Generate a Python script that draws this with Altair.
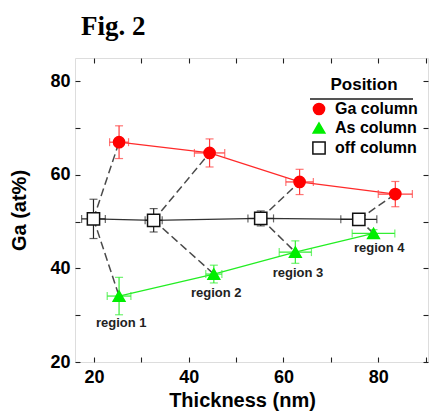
import altair as alt
import pandas as pd

positions = ["Ga column", "As column", "off column"]

ga_thick = [25.3, 44.4, 63.4, 83.6]
ga_val = [67.0, 64.7, 58.5, 55.9]
ga_xerr = [2.0, 3.2, 2.9, 3.6]
ga_yerr = [3.5, 3.0, 2.7, 2.7]

as_thick = [25.3, 45.3, 62.5, 79.0]
as_val = [34.1, 38.8, 43.5, 47.5]
as_xerr = [2.5, 1.7, 3.4, 4.5]
as_yerr = [4.0, 1.9, 2.4, 0.8]

off_thick = [19.9, 32.6, 55.2, 75.9]
off_val = [50.6, 50.3, 50.7, 50.5]
off_xerr = [2.5, 1.8, 2.7, 3.8]
off_yerr = [4.2, 2.5, 1.6, 0.8]

region_labels = ["region 1", "region 2", "region 3", "region 4"]
region_x = [25.75, 45.8, 63.05, 80.2]
region_y = [27.5, 34.0, 38.1, 43.6]

x_tick_values = [20, 30, 40, 50, 60, 70, 80, 90]
y_tick_values = [20, 30, 40, 50, 60, 70, 80]
x_label_values = [20, 40, 60, 80]
y_label_values = [20, 40, 60, 80]

point_fill = ["#ff0000", "#00ee00", "#ffffff"]
point_stroke = ["#ff0000", "#00ee00", "#111111"]
point_shape = ["circle", "triangle-up", "square"]
point_size = [125, 150, 120]
line_col = {"Ga column": "#ff2a2a", "As column": "#22ee22", "off column": "#333333"}
err_col = {"Ga column": "#ff3c3c", "As column": "#33ee33", "off column": "#222222"}

rows = []
for pos, th, va, xe, ye in [
    ("Ga column", ga_thick, ga_val, ga_xerr, ga_yerr),
    ("As column", as_thick, as_val, as_xerr, as_yerr),
    ("off column", off_thick, off_val, off_xerr, off_yerr),
]:
    for i in range(4):
        rows.append({
            "position": pos, "region": i, "thickness": th[i], "ga": va[i],
            "xlo": th[i] - xe[i], "xhi": th[i] + xe[i],
            "ylo": va[i] - ye[i], "yhi": va[i] + ye[i],
            "lc": line_col[pos], "ec": err_col[pos],
        })
df = pd.DataFrame(rows)

seg_rows = []
for i in range(4):
    for tgt, th, va in [("ga", ga_thick, ga_val), ("as", as_thick, as_val)]:
        seg_rows.append({"seg": f"{i}-{tgt}", "pt": 0, "thickness": off_thick[i], "ga": off_val[i]})
        seg_rows.append({"seg": f"{i}-{tgt}", "pt": 1, "thickness": th[i], "ga": va[i]})
seg_df = pd.DataFrame(seg_rows)

text_df = pd.DataFrame({"label": region_labels, "thickness": region_x, "ga": region_y})

xscale = alt.Scale(domain=[16, 90.5], nice=False, zero=False)
yscale = alt.Scale(domain=[20, 85], nice=False, zero=False)

W, H = 353, 304
FONT = "Liberation Sans"


def X(field="thickness", axis=None):
    return alt.X(f"{field}:Q", scale=xscale, axis=axis, title=None)


def Y(field="ga", axis=None):
    return alt.Y(f"{field}:Q", scale=yscale, axis=axis, title=None)


dashed = alt.Chart(seg_df).mark_line(
    color="#4a4a4a", strokeWidth=1.5, strokeDash=[8, 4]
).encode(x=X(), y=Y(), detail="seg:N", order="pt:Q")

lines = alt.Chart(df).mark_line(strokeWidth=1.3).encode(
    x=X(), y=Y(), stroke=alt.Stroke("lc:N", scale=None), detail="position:N",
    order="thickness:Q",
)

xerr_rule = alt.Chart(df).mark_rule(strokeWidth=1.2).encode(
    x=X("xlo"), x2="xhi:Q", y=Y(), stroke=alt.Stroke("ec:N", scale=None)
)
yerr_rule = alt.Chart(df).mark_rule(strokeWidth=1.2).encode(
    x=X(), y=Y("ylo"), y2="yhi:Q", stroke=alt.Stroke("ec:N", scale=None)
)
xcap_lo = alt.Chart(df).mark_tick(orient="vertical", size=8, thickness=1.2).encode(
    x=X("xlo"), y=Y(), color=alt.Color("ec:N", scale=None)
)
xcap_hi = alt.Chart(df).mark_tick(orient="vertical", size=8, thickness=1.2).encode(
    x=X("xhi"), y=Y(), color=alt.Color("ec:N", scale=None)
)
ycap_lo = alt.Chart(df).mark_tick(orient="horizontal", size=8, thickness=1.2).encode(
    x=X(), y=Y("ylo"), color=alt.Color("ec:N", scale=None)
)
ycap_hi = alt.Chart(df).mark_tick(orient="horizontal", size=8, thickness=1.2).encode(
    x=X(), y=Y("yhi"), color=alt.Color("ec:N", scale=None)
)

leg = alt.Legend(
    title="Position", orient="none", legendX=236, legendY=19,
    titleFont=FONT, titleFontSize=17, titleFontWeight="bold", titleColor="#000000",
    titleAnchor="middle", titlePadding=7,
    labelFont=FONT, labelFontSize=16, labelFontWeight="bold", labelColor="#000000",
    labelOffset=8, symbolSize=120, symbolStrokeWidth=1.5, rowPadding=1, padding=0,
    symbolOpacity=1,
)

main_x_axis = alt.Axis(
    values=x_label_values, ticks=False, domain=False, grid=False,
    labelFont=FONT, labelFontSize=18, labelFontWeight="bold", labelColor="#000000",
    labelPadding=6, title="Thickness (nm)", titleFont=FONT, titleFontSize=20,
    titleFontWeight="bold", titleColor="#000000", titleX=167, titleY=44,
    titleBaseline="alphabetic", titleAlign="center",
)
main_y_axis = alt.Axis(
    values=y_label_values, ticks=False, domain=False, grid=False,
    labelFont=FONT, labelFontSize=18, labelFontWeight="bold", labelColor="#000000",
    labelPadding=5, title="Ga (at%)", titleFont=FONT, titleFontSize=20,
    titleFontWeight="bold", titleColor="#000000", titleX=-50, titleY=152,
    titleBaseline="alphabetic", titleAlign="center", titleAngle=-90,
)

points = alt.Chart(df).mark_point(opacity=1, fillOpacity=1, strokeWidth=1.5).encode(
    x=alt.X("thickness:Q", scale=xscale, axis=main_x_axis),
    y=alt.Y("ga:Q", scale=yscale, axis=main_y_axis),
    fill=alt.Fill("position:N", scale=alt.Scale(domain=positions, range=point_fill), legend=leg),
    stroke=alt.Stroke("position:N", scale=alt.Scale(domain=positions, range=point_stroke), legend=leg),
    shape=alt.Shape("position:N", scale=alt.Scale(domain=positions, range=point_shape), legend=leg),
    size=alt.Size("position:N", scale=alt.Scale(domain=positions, range=point_size), legend=leg),
)

labels = alt.Chart(text_df).mark_text(
    font=FONT, fontSize=13, fontWeight="bold", color="#222222", baseline="alphabetic"
).encode(x=X(), y=Y(), text="label:N")

underline = alt.Chart(text_df).mark_rule(color="#555555", strokeWidth=1.5).encode(
    x=alt.value(235), x2=alt.value(338), y=alt.value(41)
)


def tick_axis(orient, values, offset):
    return alt.Axis(
        orient=orient, values=values, offset=offset, labels=False, domain=False,
        grid=False, ticks=True, tickSize=5, tickWidth=1.1, tickColor="#222222",
        title=None,
    )


inv1 = alt.Chart(text_df).mark_point(opacity=0).encode(
    x=alt.X("thickness:Q", scale=xscale, axis=tick_axis("top", x_tick_values, -H)),
    y=alt.Y("ga:Q", scale=yscale, axis=tick_axis("right", y_tick_values, -W)),
)
inv2 = alt.Chart(text_df).mark_point(opacity=0).encode(
    x=alt.X("thickness:Q", scale=xscale, axis=tick_axis("bottom", x_tick_values, -H)),
    y=alt.Y("ga:Q", scale=yscale, axis=tick_axis("left", y_tick_values, -W)),
)

chart = alt.layer(
    inv1, inv2, dashed, lines, xerr_rule, yerr_rule, xcap_lo, xcap_hi, ycap_lo, ycap_hi,
    points, labels, underline,
).resolve_axis(x="independent", y="independent").properties(
    width=W, height=H,
    title=alt.TitleParams(
        "Fig. 2", anchor="start", frame="group", font="Liberation Serif", fontSize=27,
        fontWeight="bold", color="#000000", dx=6, dy=29, offset=24, baseline="alphabetic",
    ),
    autosize=alt.AutoSizeParams(type="none"),
    padding={"left": 75, "top": 58, "right": 3, "bottom": 51},
).configure_view(stroke="#222222", strokeWidth=1.3).configure(background="white")

chart.save("out.html", embed_options={"renderer": "svg", "actions": False})
